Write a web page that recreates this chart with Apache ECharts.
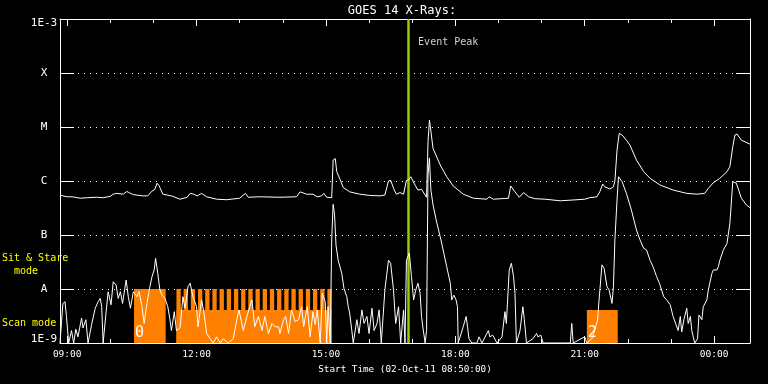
<!DOCTYPE html>
<html><head><meta charset="utf-8">
<script src="https://cdn.jsdelivr.net/npm/echarts@6/dist/echarts.min.js"></script>
<style>html,body{margin:0;padding:0;background:#000;}#c{width:768px;height:384px;}</style>
</head><body><div id="c"></div>
<script>
// ---------------- data ----------------
const startClock = '08:50';
const spanMinutes = 960; // 16 hours shown
const majorTickLabels = ['09:00','12:00','15:00','18:00','21:00','00:00'];
const minorTickLabels = ['10:00','11:00','13:00','14:00','16:00','17:00','19:00','20:00','22:00','23:00'];
const yTickLabels = ['1E-9','A','B','C','M','X','1E-3']; // decades 1e-9 .. 1e-3
const titleText = 'GOES 14 X-Rays:';
const xAxisTitle = 'Start Time (02-Oct-11 08:50:00)';
const eventPeakLabel = 'Event Peak';
const eventPeakMinute = 485;          // minutes after start
const eventLabelFlux = 3.67e-4;

// long channel (1-8 A): [minutes after start, flux W/m^2]
const longChannel = [
[0,5.5e-7],[4,5.3e-7],[10,5.1e-7],[17,5.1e-7],[28,4.8e-7],[38,4.9e-7],[51,5.0e-7],[60,4.9e-7],[70,5.2e-7],[74,5.7e-7],
[79,5.9e-7],[88,5.7e-7],[93,6.4e-7],[97,6.0e-7],[102,5.6e-7],[115,5.3e-7],[122,5.3e-7],[128,6.5e-7],[132,7.0e-7],[135,9.1e-7],
[138,8.1e-7],[143,5.7e-7],[149,5.5e-7],[157,5.2e-7],[167,4.6e-7],[177,5.0e-7],[181,5.9e-7],[186,5.7e-7],[191,5.3e-7],[197,5.9e-7],
[204,5.1e-7],[218,4.6e-7],[232,4.5e-7],[250,4.8e-7],[258,5.9e-7],[262,5.0e-7],[278,5.1e-7],[306,5.0e-7],[329,5.1e-7],[334,6.3e-7],
[343,5.7e-7],[352,5.7e-7],[358,5.1e-7],[364,5.3e-7],[367,5.9e-7],[371,5.0e-7],[378,4.9e-7],[380,2.45e-6],[383,2.6e-6],[385,1.49e-6],
[390,1.04e-6],[394,7.6e-7],[403,6.3e-7],[417,5.7e-7],[431,5.4e-7],[445,5.3e-7],[452,5.5e-7],[457,1.0e-6],[460,1.03e-6],[465,6.8e-7],
[468,5.7e-7],[473,6.1e-7],[478,5.7e-7],[482,1.03e-6],[485,1.04e-6],[488,1.2e-6],[494,8.4e-7],[498,6.8e-7],[503,7.0e-7],[508,5.5e-7],
[510,5.0e-7],[512,5.3e-6],[514,1.35e-5],[516,8.4e-6],[519,4.0e-6],[529,1.98e-6],[538,1.2e-6],[547,8.1e-7],[561,5.7e-7],[575,4.8e-7],
[594,4.6e-7],[597,5.1e-7],[603,4.6e-7],[624,4.8e-7],[627,8.1e-7],[633,6.3e-7],[639,5.0e-7],[645,6.1e-7],[652,5.1e-7],[661,4.7e-7],
[675,4.6e-7],[696,4.3e-7],[714,4.45e-7],[730,4.6e-7],[737,4.9e-7],[747,5.1e-7],[751,6.3e-7],[755,8.8e-7],[758,7.8e-7],[765,7.1e-7],
[770,7.8e-7],[772,1.0e-6],[775,3.75e-6],[778,7.6e-6],[782,7.1e-6],[788,5.7e-6],[793,4.6e-6],[802,2.45e-6],[812,1.49e-6],[821,1.12e-6],
[835,8.4e-7],[853,6.8e-7],[872,5.9e-7],[886,5.7e-7],[897,5.9e-7],[902,7.3e-7],[909,9.3e-7],[918,1.12e-6],[928,1.49e-6],[932,1.84e-6],
[936,4.3e-6],[939,7.1e-6],[942,7.4e-6],[948,5.7e-6],[960,4.8e-6]
];

// short channel (0.5-4 A): [minutes after start, flux W/m^2]
const shortChannel = [
[0,1e-9],[4,5.4e-9],[7,5.8e-9],[9,3.1e-9],[12,1e-9],[16,1.7e-9],[19,1e-9],[22,1.8e-9],[25,1.3e-9],[30,2.9e-9],
[32,1.9e-9],[36,2.7e-9],[39,1e-9],[44,2.2e-9],[49,4.4e-9],[53,5.8e-9],[56,6.7e-9],[58,4.7e-9],[60,1e-9],[64,3.6e-9],
[67,8.9e-9],[71,5.1e-9],[74,1.36e-8],[78,1.19e-8],[81,6.7e-9],[84,8.9e-9],[87,5.4e-9],[92,1.47e-8],[95,7.2e-9],[98,4.4e-9],
[102,8.9e-9],[107,7.2e-9],[110,8.9e-9],[114,4.7e-9],[117,2.3e-9],[121,5.4e-9],[125,1.1e-8],[128,1.69e-8],[131,2.25e-8],[133,3.7e-8],
[136,1.95e-8],[139,9.6e-9],[142,7.7e-9],[146,6.7e-9],[150,4.7e-9],[153,2.7e-9],[155,1.7e-9],[159,3.8e-9],[162,1.7e-9],[167,1.9e-9],
[171,7.2e-9],[174,4.4e-9],[178,1.1e-8],[181,1.28e-8],[185,7.2e-9],[190,4.7e-9],[192,2.0e-9],[197,6.3e-9],[200,3.8e-9],[204,1.5e-9],
[209,1.2e-9],[213,1e-9],[218,1.3e-9],[223,1e-9],[227,1.2e-9],[234,1e-9],[241,1.2e-9],[246,2.7e-9],[249,4.1e-9],[255,1.7e-9],
[260,3.1e-9],[264,4.7e-9],[267,6.3e-9],[271,2.0e-9],[276,3.1e-9],[281,1.7e-9],[285,3.1e-9],[290,1.5e-9],[295,2.3e-9],[299,2.0e-9],
[304,2.0e-9],[306,1.5e-9],[311,2.7e-9],[314,3.1e-9],[318,1.5e-9],[322,4.1e-9],[327,2.5e-9],[332,2.7e-9],[336,4.7e-9],[339,2.0e-9],
[344,4.7e-9],[348,1.3e-9],[352,3.8e-9],[355,2.2e-9],[358,4.1e-9],[362,1e-9],[365,8.3e-9],[369,5.8e-9],[371,1e-9],[373,4.7e-9],
[376,1e-9],[378,8.1e-8],[380,3.7e-7],[382,2.35e-7],[384,6.5e-8],[387,3.4e-8],[392,1.95e-8],[395,1.03e-8],[399,7.2e-9],[401,4.7e-9],
[403,3.6e-9],[406,1.7e-9],[408,1e-9],[413,2.7e-9],[416,1.5e-9],[420,4.1e-9],[423,2.3e-9],[427,3.1e-9],[430,1.5e-9],[434,4.4e-9],
[437,1.7e-9],[441,2.3e-9],[444,4.1e-9],[447,1e-9],[452,9.6e-9],[457,3.4e-8],[460,3.0e-8],[464,9.6e-9],[467,2.3e-9],[471,4.7e-9],
[474,1e-9],[478,4.1e-9],[480,1e-9],[482,3.4e-8],[486,4.6e-8],[489,1.7e-8],[492,6.3e-9],[495,9.6e-9],[498,1.28e-8],[501,8.3e-9],
[503,3.1e-9],[505,1.9e-9],[508,1e-9],[510,1.7e-9],[512,1.29e-6],[514,2.67e-6],[516,6.8e-7],[519,3.6e-7],[524,1.74e-7],[530,8.1e-8],
[534,4.6e-8],[538,2.6e-8],[543,1.28e-8],[545,6.3e-9],[548,7.7e-9],[551,6.3e-9],[553,4.7e-9],[554,1e-9],[561,2.0e-9],[565,3.1e-9],
[567,2.0e-9],[569,1.2e-9],[573,1e-9],[580,1e-9],[583,1.3e-9],[587,1e-9],[596,1.7e-9],[598,1.3e-9],[602,1.4e-9],[608,1e-9],
[615,1.3e-9],[619,3.8e-9],[621,2.3e-9],[625,2.25e-8],[628,3.0e-8],[631,1.7e-8],[633,8.3e-9],[635,1e-9],[640,1.7e-9],[644,4.7e-9],
[646,2.7e-9],[649,1e-9],[658,1.2e-9],[663,1.5e-9],[665,1.3e-9],[669,1.4e-9],[672,1e-9],[710,1e-9],[712,2.3e-9],[714,1e-9],
[730,1.3e-9],[733,1e-9],[740,1.2e-9],[744,1.7e-9],[748,2.7e-9],[750,6.3e-9],[754,2.8e-8],[757,2.4e-8],[761,1.1e-8],[764,9.6e-9],
[768,5.4e-9],[770,1.1e-8],[772,8.1e-8],[775,4.45e-7],[777,1.2e-6],[782,9.7e-7],[788,5.9e-7],[795,2.9e-7],[802,1.24e-7],[807,8.1e-8],
[812,5.7e-8],[816,5.3e-8],[821,3.4e-8],[825,2.6e-8],[830,1.7e-8],[834,1.28e-8],[837,9.6e-9],[840,7.2e-9],[844,6.3e-9],[849,5.1e-9],
[853,3.1e-9],[857,2.2e-9],[860,1.7e-9],[863,3.1e-9],[865,1.6e-9],[868,2.7e-9],[872,4.4e-9],[874,2.3e-9],[877,3.1e-9],[879,1.7e-9],
[881,1.3e-9],[883,1e-9],[887,1.2e-9],[889,3.3e-9],[893,2.7e-9],[895,4.7e-9],[900,6.3e-9],[902,9.6e-9],[904,1.28e-8],[907,1.95e-8],
[909,2.25e-8],[914,2.25e-8],[916,2.6e-8],[918,3.4e-8],[923,5.3e-8],[928,7e-8],[932,1.65e-7],[936,9.7e-7],[938,1.04e-6],[941,9.1e-7],
[948,4.8e-7],[955,3.6e-7],[960,3.2e-7]
];

// observing mode blocks: start/end minutes after start, mode kind, label
const modeStart = [103,162,162,172,182,192,202,212,222,232,242,252,262,272,282,292,302,312,322,332,342,352,362,372,733];
const modeEnd   = [147,378,168,178,188,198,208,218,228,238,248,258,268,278,288,298,308,318,328,338,348,358,368,378,776];
const modeKind  = ['sit','scan','sit','sit','sit','sit','sit','sit','sit','sit','sit','sit','sit','sit','sit','sit','sit','sit','sit','sit','sit','sit','sit','sit','scan'];
const modeLabel = ['0','','','','','','','','','','','','','','','','','','','','','','','','2'];
const modeLevel = {sit:1e-8, scan:4.1e-9};
const modeNames = ['Sit & Stare', 'mode', 'Scan mode'];

// ---------------- chart ----------------
const FONT = '"DejaVu Sans Mono", monospace';
const ORANGE = '#ff8000';
const Y_MIN = 1e-9, Y_MAX = 1e-3;
function toMin(clock){
  const [h,m] = clock.split(':').map(Number);
  const [sh,sm] = startClock.split(':').map(Number);
  let d = h*60+m - (sh*60+sm);
  if (d < 0) d += 1440;
  return d;
}
const majorVals = majorTickLabels.map(toMin);
const minorVals = minorTickLabels.map(toMin);
function clockLabel(v){
  const i = majorVals.findIndex(x => Math.abs(x - v) < 0.5);
  return i >= 0 ? majorTickLabels[i] : '';
}
const modeRows = modeStart.map((s,i)=>[s, modeEnd[i], modeLevel[modeKind[i]]]);

function xAx(pos, vals, len, showLine, showLabel, extra){
  return Object.assign({
    type:'value', min:0, max:spanMinutes, position:pos, gridIndex:0,
    axisLine:{show:showLine, onZero:false, lineStyle:{color:'#fff', width:1}},
    axisTick:{show:true, inside:true, length:len, customValues:vals, lineStyle:{color:'#fff', width:1}},
    axisLabel:{show:showLabel, customValues:vals, formatter:clockLabel, color:'#fff', fontFamily:FONT, fontSize:9.5, margin:7},
    splitLine:{show:false}
  }, extra||{});
}
const labelTxt = {color:'#fff', fontFamily:FONT, fontSize:11};
function yAx(pos, showLabel, showSplit){
  return {type:'log', logBase:10, min:Y_MIN, max:Y_MAX, splitNumber:6, position:pos,
    axisLine:{show:true, onZero:false, lineStyle:{color:'#fff', width:1}},
    axisTick:{show:true, inside:true, length:14, lineStyle:{color:'#fff', width:1}},
    minorTick:{show:false},
    axisLabel:{show:showLabel, align:'center', margin:16, color:'#fff', fontFamily:FONT, fontSize:11,
      formatter:v=>{
        const k = Math.round(Math.log10(v))+9;
        const t = yTickLabels[k] || '';
        if (k === 0) return '{lo|'+t+'}';
        if (k === yTickLabels.length-1) return '{hi|'+t+'}';
        return t;
      },
      rich:{
        lo:Object.assign({padding:[0,0,8,0]}, labelTxt),
        hi:Object.assign({padding:[8,0,0,0]}, labelTxt)
      }},
    splitLine:{show:showSplit, lineStyle:{color:'#fff', width:1, type:[1,5]}}
  };
}

const chart = echarts.init(document.getElementById('c'), null, {renderer:'canvas'});
chart.setOption({
  backgroundColor:'#000',
  animation:false,
  title:{text:titleText, left:397, top:0, textAlign:'center',
    textStyle:{color:'#fff', fontFamily:FONT, fontSize:12, fontWeight:'normal'}},
  grid:{left:60, top:19, width:690, height:324, containLabel:false},
  xAxis:[
    xAx('bottom', majorVals, 7, true, true, {name:xAxisTitle, nameLocation:'middle', nameGap:20,
      nameTextStyle:{color:'#fff', fontFamily:FONT, fontSize:9.3}}),
    xAx('bottom', minorVals, 4, false, false),
    xAx('top', majorVals, 7, true, false),
    xAx('top', minorVals, 4, false, false)
  ],
  yAxis:[ yAx('left', true, true), yAx('right', false, false) ],
  series:[
    {type:'custom', name:'modes', xAxisIndex:0, yAxisIndex:0, z:2, silent:true,
      data:modeRows, encode:{x:[0,1], y:2},
      renderItem:(params, api)=>{
        const s=api.value(0), e=api.value(1), top=api.value(2);
        const p0=api.coord([s, top]); const p1=api.coord([e, Y_MIN]);
        const children=[{type:'rect', shape:{x:p0[0], y:p0[1], width:p1[0]-p0[0], height:p1[1]-p0[1]},
          style:{fill:ORANGE}}];
        const lab = modeLabel[params.dataIndex];
        if (lab) children.push({type:'text', style:{text:lab, x:p0[0]+1, y:p1[1]-10, fill:'#fff',
          font:'15px '+FONT, align:'left', verticalAlign:'middle'}});
        return {type:'group', children};
      }
    },
    {type:'line', name:'long', xAxisIndex:0, yAxisIndex:0, z:5, data:longChannel,
      showSymbol:false, symbol:'none', smooth:false, clip:true,
      lineStyle:{color:'#fff', width:1}},
    {type:'line', name:'short', xAxisIndex:0, yAxisIndex:0, z:5, data:shortChannel,
      showSymbol:false, symbol:'none', smooth:false, clip:true,
      lineStyle:{color:'#fff', width:1}},
    {type:'scatter', name:'event', xAxisIndex:0, yAxisIndex:0, z:10, silent:true,
      data:[[eventPeakMinute, eventLabelFlux]], symbolSize:1, itemStyle:{color:'rgba(0,0,0,0)'},
      label:{show:true, position:'right', distance:9, formatter:eventPeakLabel,
        color:'#fff', fontFamily:FONT, fontSize:10},
      markLine:{symbol:'none', silent:true, animation:false,
        data:[{xAxis:eventPeakMinute}],
        lineStyle:{color:'#99cc00', width:2.5, type:'solid'}, label:{show:false}}
    }
  ],
  graphic:[
    {type:'text', x:2, y:258, style:{text:modeNames[0], fill:'#ffff00', font:'10px '+FONT, align:'left', verticalAlign:'middle'}},
    {type:'text', x:14, y:271, style:{text:modeNames[1], fill:'#ffff00', font:'10px '+FONT, align:'left', verticalAlign:'middle'}},
    {type:'text', x:2, y:323, style:{text:modeNames[2], fill:'#ffff00', font:'10px '+FONT, align:'left', verticalAlign:'middle'}}
  ]
});
</script>
</body></html>
